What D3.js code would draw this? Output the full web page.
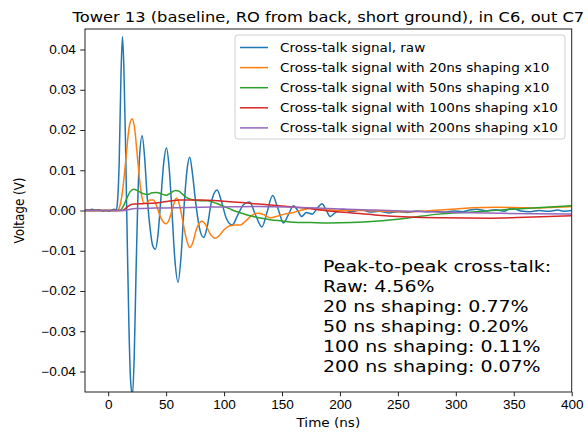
<!DOCTYPE html>
<html>
<head>
<meta charset="utf-8">
<script src="https://cdn.jsdelivr.net/npm/d3@7"></script>
<style>
  body { margin: 0; background: #fff; }
  svg { font-family: "DejaVu Sans", sans-serif; }
  .tick text { fill: #000; }
</style>
</head>
<body>
<svg id="chart" width="588" height="433"></svg>
<script>
// Series data, [time (ns), voltage (V)]
const rawSignal = [
  [-20, 0.0002], [-17, 0.0001], [-14, 0.0003], [-11, 0.0001], [-8, 0.0002], [-5, -0.0001],
  [-2, 0.0000], [1, -0.0002], [3, 0.0001], [5, 0.0003], [7, 0.0002],
  [8, 0.002], [9.5, 0.012], [11, 0.033], [12.3, 0.0432], [13.5, 0.036], [15, 0.016],
  [16.5, -0.008], [18, -0.03], [19.5, -0.043], [21, -0.0458], [22.5, -0.036], [24, -0.016],
  [25.5, 0.002], [27, 0.013], [29.3, 0.0186], [31.5, 0.013], [33.5, 0.004], [36, -0.004],
  [38.5, -0.0088], [40.8, -0.0096], [43, -0.006], [45.5, 0.003], [48, 0.012], [50.3, 0.0156],
  [52.5, 0.011], [55, 0.000], [57.5, -0.012], [60.3, -0.0178], [63, -0.011], [65.5, 0.001],
  [68, 0.010], [70.4, 0.01325], [72.8, 0.009], [75.5, 0.002], [78.5, -0.004], [82.4, -0.0067],
  [85.5, -0.004], [89, 0.002], [94, 0.0051], [98, 0.002], [102, -0.002], [107, -0.0036],
  [112, -0.001], [117, 0.0015], [122, 0.0021], [127, -0.001], [132.7, -0.0041], [137, -0.0005],
  [141.9, 0.0037], [146.5, 0.0005], [151.4, -0.0031], [155.5, -0.001], [160, 0.0012],
  [163.5, 0.000], [167, -0.0015], [171, -0.0005], [176, -0.0009], [180, 0.0004], [184.5, 0.0017],
  [188, 0.0002], [191.6, -0.0015], [196, -0.0005], [203, 0.0003], [210, -0.0003], [218, 0.0002],
  [226, -0.0004], [234, -0.0002], [242, -0.0006], [250, -0.0003], [258, -0.0005], [266, -0.0001],
  [274, -0.0003], [282, -0.0002], [290, -0.0004], [298, -0.0001], [306, -0.0003], [312, 0.0001],
  [318, 0.0003], [326, -0.0001], [334, 0.0002], [342, -0.0002], [348, 0.0006], [356, -0.0001],
  [364, -0.0003], [372, 0.0000], [380, -0.0002], [388, 0.0001], [394, -0.0002], [400, 0.0000]
];
const shaped20 = [
  [-20, 0], [0, 0], [8, 0], [10, 0.001], [12, 0.004], [14, 0.009], [16, 0.015], [18, 0.0205],
  [20.7, 0.0228], [23, 0.020], [25, 0.014], [27, 0.008], [29, 0.0035], [31, 0.0018], [33, 0.0018],
  [36, 0.0026], [39, 0.0026], [42, 0.001], [45, -0.0015], [48, -0.003], [50.3, -0.0033],
  [53, -0.002], [56, 0.001], [58.9, 0.0031], [61, 0.002], [64, -0.002], [67, -0.0065],
  [70.4, -0.0092], [73, -0.008], [76, -0.0048], [79, -0.003], [81, -0.0027], [84, -0.0035],
  [88, -0.0058], [92.5, -0.0069], [96, -0.0062], [100, -0.0048], [105, -0.0038], [110, -0.0036],
  [114, -0.0036], [118, -0.0028], [124, -0.0012], [129, -0.0007], [134, -0.001], [140, -0.0018],
  [146, -0.0014], [152, -0.0009], [160, -0.0005], [168, 0.0002], [174, 0.0005], [182, 0.0002],
  [192, 0.0001], [205, 0.0000], [220, 0.0000], [240, -0.0002], [260, -0.0003], [280, 0.0000],
  [300, 0.0004], [315, 0.0007], [335, 0.0008], [355, 0.0007], [370, 0.0006], [385, 0.0008],
  [400, 0.001]
];
const shaped50 = [
  [-20, 0], [10, 0], [13, 0.001], [16, 0.003], [19, 0.0047], [22, 0.0053], [26, 0.0048],
  [30, 0.0042], [34, 0.004], [38, 0.0044], [42, 0.0045], [46, 0.0041], [50, 0.0038],
  [54, 0.0044], [58, 0.005], [61, 0.0048], [65, 0.0038], [69, 0.003], [74, 0.0026],
  [80, 0.0024], [86, 0.0024], [90, 0.0021], [95, 0.0016], [100, 0.001], [105, 0.0004],
  [110, -0.0002], [115, -0.0007], [120, -0.0011], [130, -0.0018], [140, -0.0023],
  [150, -0.0026], [160, -0.0029], [175, -0.003], [190, -0.0031], [210, -0.003], [230, -0.0027],
  [245, -0.0023], [260, -0.0018], [285, -0.0009], [314, -0.0004], [342, 0.0002], [370, 0.0007],
  [400, 0.0012]
];
const shaped100 = [
  [-20, 0], [12, 0], [15, 0.0005], [18, 0.0012], [22, 0.0016], [30, 0.0017], [37, 0.0018],
  [45, 0.002], [55, 0.0024], [61, 0.0026], [70, 0.0026], [81, 0.0026], [95, 0.0024],
  [105, 0.0022], [118, 0.0019], [130, 0.0016], [150, 0.0011], [170, 0.0006], [190, -0.0001],
  [210, -0.0006], [230, -0.0011], [260, -0.0016], [290, -0.0018], [330, -0.0019],
  [360, -0.0017], [400, -0.0013]
];
const shaped200 = [
  [-20, 0], [14, 0], [17, 0.0002], [20, 0.0004], [25, 0.0005], [40, 0.0006], [60, 0.0007],
  [80, 0.0008], [100, 0.0009], [130, 0.001], [160, 0.0008], [180, 0.0006], [200, 0.0004],
  [230, 0.0001], [260, -0.0002], [300, -0.0005], [340, -0.0007], [370, -0.0008], [400, -0.0009]
];

const seriesNames = [
  'Cross-talk signal, raw',
  'Cross-talk signal with 20ns shaping x10',
  'Cross-talk signal with 50ns shaping x10',
  'Cross-talk signal with 100ns shaping x10',
  'Cross-talk signal with 200ns shaping x10'
];
const seriesColors = ['#1f77b4', '#ff7f0e', '#2ca02c', '#d62728', '#9467bd'];
const seriesData = [rawSignal, shaped20, shaped50, shaped100, shaped200];

const xTicks = [0, 50, 100, 150, 200, 250, 300, 350, 400];
const yTicks = [-0.04, -0.03, -0.02, -0.01, 0.00, 0.01, 0.02, 0.03, 0.04];

const noteLines = [
  'Peak-to-peak cross-talk:',
  'Raw: 4.56%',
  '20 ns shaping: 0.77%',
  '50 ns shaping: 0.20%',
  '100 ns shaping: 0.11%',
  '200 ns shaping: 0.07%'
];

// the picture is squeezed vertically, so text is a bit wider than tall
const stretch = 1.136;
const fsSmall = 11.95, fsTitle = 14.35, fsNote = 16.7;

// layout
const margin = {left: 85, right: 16.3, top: 29, bottom: 41};
const svg = d3.select('#chart');
const W = +svg.attr('width'), H = +svg.attr('height');
const plotW = W - margin.left - margin.right;
const plotH = H - margin.top - margin.bottom;

const x = d3.scaleLinear().domain([-20, 400]).range([0, plotW]);
const y = d3.scaleLinear().domain([-0.0451, 0.0451]).range([plotH, 0]);

// move x/y of a text into a transform so the glyphs can be widened
function widen(sel) {
    sel.each(function () {
        const t = d3.select(this);
        const tx = +t.attr('x') || 0, ty = +t.attr('y') || 0;
        t.attr('x', null).attr('y', null)
            .attr('transform', 'translate(' + tx + ',' + ty + ') scale(' + stretch + ',1)');
    });
}

const g = svg.append('g').attr('transform', 'translate(' + margin.left + ',' + margin.top + ')');

g.append('clipPath').attr('id', 'plotclip')
    .append('rect').attr('width', plotW).attr('height', plotH);

// lines
const line = d3.line()
    .x(d => x(d[0]))
    .y(d => y(d[1]))
    .curve(d3.curveMonotoneX);

g.append('g').attr('clip-path', 'url(#plotclip)')
    .selectAll('path')
    .data(seriesData)
    .join('path')
    .attr('fill', 'none')
    .attr('stroke', (d, i) => seriesColors[i])
    .attr('stroke-width', 1.5)
    .attr('stroke-linejoin', 'round')
    .attr('d', line);

// axes
const xAxis = d3.axisBottom(x).tickValues(xTicks).tickSize(4.2).tickPadding(4.2);
const yAxis = d3.axisLeft(y).tickValues(yTicks).tickSize(4.75).tickPadding(4.5)
    .tickFormat(d3.format('.2f'));

g.append('g').attr('transform', 'translate(0,' + plotH + ')').call(xAxis)
    .call(a => a.select('.domain').remove())
    .call(a => a.selectAll('line').attr('stroke', '#222'))
    .selectAll('text').style('font-size', fsSmall + 'px').call(widen);
g.append('g').call(yAxis)
    .call(a => a.select('.domain').remove())
    .call(a => a.selectAll('line').attr('stroke', '#222'))
    .selectAll('text').style('font-size', fsSmall + 'px').call(widen);

// frame
g.append('rect')
    .attr('width', plotW).attr('height', plotH)
    .attr('fill', 'none').attr('stroke', '#222').attr('stroke-width', 1);

// title and labels
svg.append('text')
    .attr('x', margin.left + plotW / 2).attr('y', 22)
    .attr('text-anchor', 'middle').style('font-size', fsTitle + 'px')
    .text('Tower 13 (baseline, RO from back, short ground), in C6, out C7')
    .call(widen);

svg.append('text')
    .attr('x', margin.left + plotW / 2).attr('y', 427)
    .attr('text-anchor', 'middle').style('font-size', fsSmall + 'px')
    .text('Time (ns)')
    .call(widen);

svg.append('text')
    .attr('transform', 'translate(24,' + (margin.top + plotH / 2) + ') rotate(-90) scale(1,' + stretch + ')')
    .attr('text-anchor', 'middle').style('font-size', fsSmall + 'px')
    .text('Voltage (V)');

// legend
const legend = svg.append('g').attr('transform', 'translate(235,35)');
legend.append('rect')
    .attr('width', 330).attr('height', 104).attr('rx', 3)
    .attr('fill', 'rgba(255,255,255,0.8)').attr('stroke', '#d0d0d0').attr('stroke-width', 1);

const rows = legend.selectAll('g.row').data(seriesNames).join('g')
    .attr('class', 'row')
    .attr('transform', (d, i) => 'translate(0,' + (12.5 + i * 20.1) + ')');
rows.append('line')
    .attr('x1', 5).attr('x2', 33)
    .attr('stroke', (d, i) => seriesColors[i]).attr('stroke-width', 1.5);
rows.append('text')
    .attr('x', 45).attr('dy', '0.35em').style('font-size', fsSmall + 'px')
    .text(d => d)
    .call(widen);

// annotation
svg.append('g').selectAll('text').data(noteLines).join('text')
    .attr('x', 323)
    .attr('y', (d, i) => 271.7 + i * 20)
    .style('font-size', fsNote + 'px')
    .text(d => d)
    .call(widen);
</script>
</body>
</html>
